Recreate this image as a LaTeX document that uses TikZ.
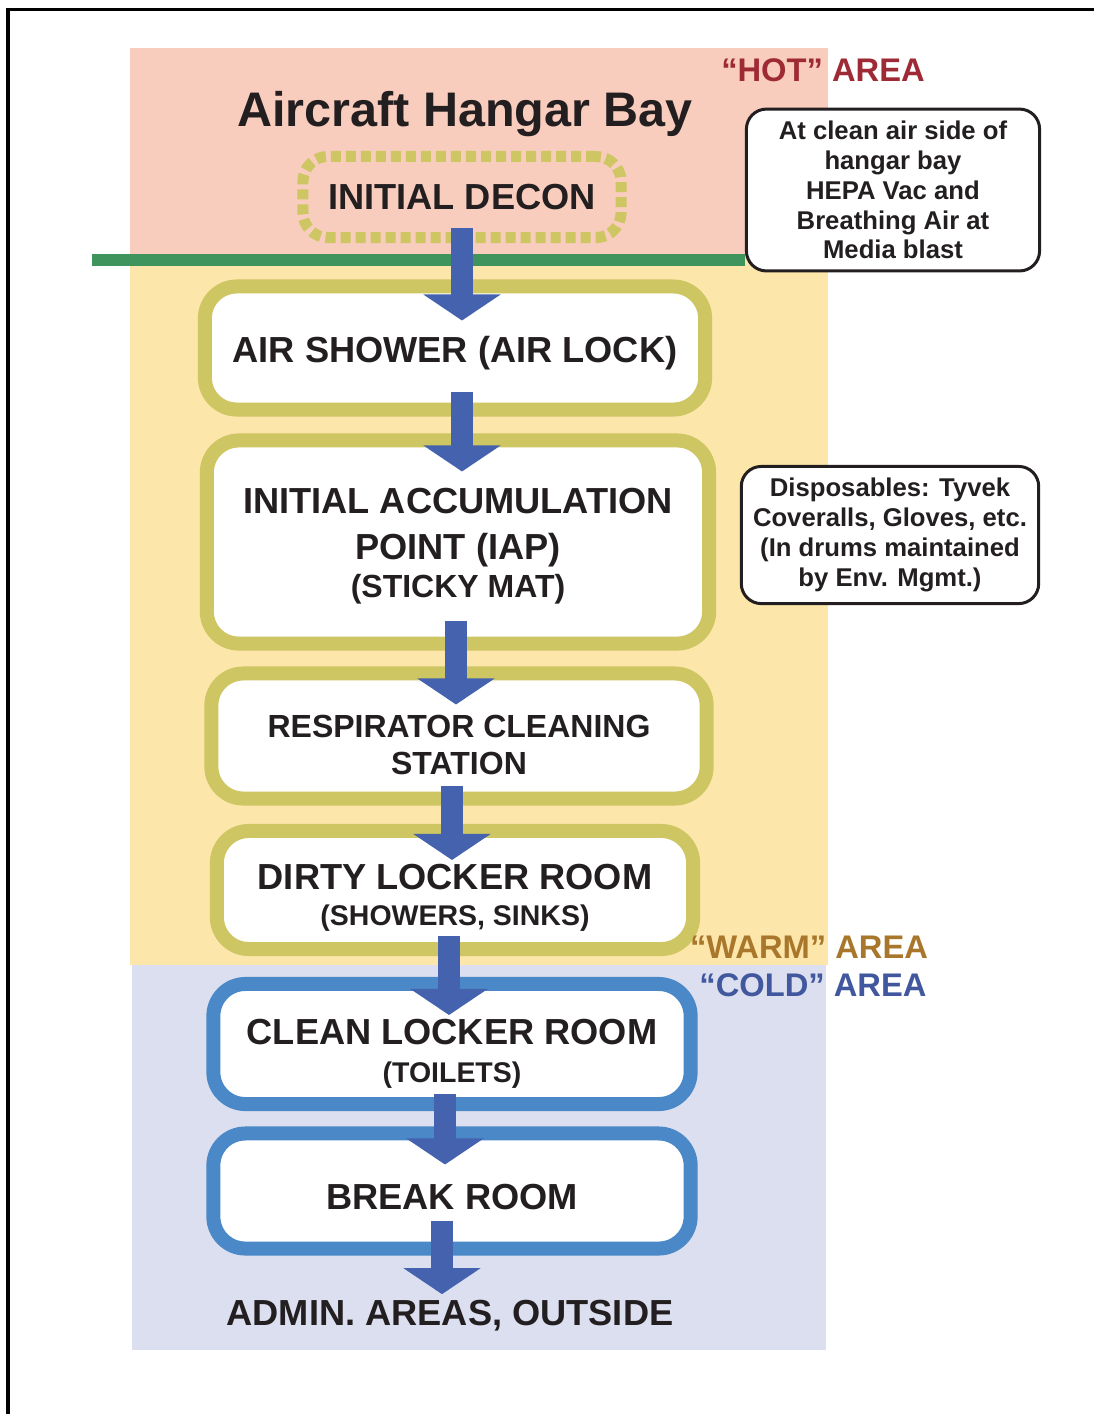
\documentclass[tikz,border=0pt]{standalone}
\usepackage{fontspec}
\setmainfont{Liberation Sans}
\usetikzlibrary{arrows.meta}

\definecolor{hotbg}{HTML}{F9CDBE}
\definecolor{warmbg}{HTML}{FDE6A9}
\definecolor{coldbg}{HTML}{DCDFEF}
\definecolor{olivebox}{HTML}{CEC563}
\definecolor{bluebox}{HTML}{4A88C7}
\definecolor{flowblue}{HTML}{4462AE}
\definecolor{linegreen}{HTML}{3F935C}
\definecolor{hotred}{HTML}{9E2A35}
\definecolor{warmbrown}{HTML}{A8772B}
\definecolor{coldblue}{HTML}{42589E}
\definecolor{inkgray}{HTML}{231F20}

\tikzset{
	roomfont/.style={text=inkgray, font=\fontsize{10.3}{13}\selectfont\bfseries},
	warmroom/.style={roomfont, draw=olivebox, fill=white, line width=0.14cm, rounded corners=0.32cm, align=center},
	coldroom/.style={warmroom, draw=bluebox},
	note/.style={draw=inkgray, fill=white, line width=0.03cm, rounded corners=0.2cm, align=center, text=inkgray, font=\fontsize{7.3}{8.5}\selectfont\bfseries},
	arealabel/.style={font=\fontsize{9.3}{11}\selectfont\bfseries},
	flowarrow/.style={draw=flowblue, line width=0.22cm, -{Triangle[width=0.76cm,length=0.26cm]}}
}

\newcommand{\subline}{\fontsize{8.1}{10}\selectfont}
\newcommand{\drop}[1]{\rule{0pt}{#1}}

\begin{document}
\begin{tikzpicture}[x=0.01cm, y=-0.01cm]
	\useasboundingbox (0,0) rectangle (1094,1414);

	\fill[hotbg] (130,48) rectangle (828,258);
	\fill[warmbg] (130,258) rectangle (828,965);
	\fill[coldbg] (132,965) rectangle (826,1350);

	\draw[line width=0.03cm] (8,1414) -- (8,9) -- (1094,9);

	\node[note, minimum width=2.93cm, minimum height=1.61cm] (hepa) at (893,190) {At clean air side of\\hangar bay\\HEPA Vac and\\Breathing Air at\\Media blast};
	\node[note, minimum width=2.94cm, minimum height=1.32cm] (waste) at (890,535) {Disposables: Tyvek\\Coveralls, Gloves, etc.\\(In drums maintained\\by Env. Mgmt.)};

	\coordinate (gline) at (92,260);
	\draw[linegreen, line width=0.12cm] (gline) -- (gline -| hepa.west);

	\node[text=inkgray, font=\fontsize{13.8}{16}\selectfont\bfseries] (title) at (465,114) {Aircraft Hangar Bay};
	\node[roomfont, draw=olivebox, line width=0.11cm, dash pattern=on 0.1cm off 0.05cm, rounded corners=0.25cm, minimum width=3.18cm, minimum height=0.81cm] (decon) at (462,197) {INITIAL DECON};

	\node[warmroom, minimum width=5.0cm, minimum height=1.23cm] (air) at (455,348) {\drop{10.3pt}AIR SHOWER (AIR LOCK)};
	\node[warmroom, minimum width=5.02cm, minimum height=2.03cm] (iap) at (458,542) {\drop{9.7pt}INITIAL ACCUMULATION\\POINT (IAP)\\[-2.2pt]{\fontsize{9.1}{11}\selectfont (STICKY MAT)}};
	\node[warmroom, font=\fontsize{9.1}{10.5}\selectfont\bfseries, minimum width=4.95cm, minimum height=1.25cm] (resp) at (459,736) {\drop{11.3pt}RESPIRATOR CLEANING\\STATION};
	\node[warmroom, minimum width=4.76cm, minimum height=1.18cm] (dirty) at (455,890) {\drop{11.6pt}DIRTY LOCKER ROOM\\[-2.8pt]{\subline (SHOWERS, SINKS)}};
	\node[coldroom, minimum width=4.77cm, minimum height=1.20cm] (clean) at (452,1044) {\drop{12.7pt}CLEAN LOCKER ROOM\\[-2.2pt]{\subline (TOILETS)}};
	\node[coldroom, minimum width=4.77cm, minimum height=1.15cm] (break) at (452,1191) {\drop{10.4pt}BREAK ROOM};
	\node[roomfont] (admin) at (450,1316) {ADMIN. AREAS, OUTSIDE};

	\draw[flowarrow] ([yshift=0.15cm]decon.south) -- ([yshift=-0.41cm]decon.south |- air.north);
	\draw[flowarrow] ([xshift=0.07cm, yshift=0.25cm]air.south) -- ([xshift=0.07cm, yshift=-0.38cm]air.south |- iap.north);
	\draw[flowarrow] ([xshift=-0.02cm, yshift=0.3cm]iap.south) -- ([xshift=-0.02cm, yshift=-0.38cm]iap.south |- resp.north);
	\draw[flowarrow] ([xshift=-0.07cm, yshift=0.2cm]resp.south) -- ([xshift=-0.07cm, yshift=-0.36cm]resp.south |- dirty.north);
	\draw[flowarrow] ([xshift=-0.06cm, yshift=0.2cm]dirty.south) -- ([xshift=-0.06cm, yshift=-0.38cm]dirty.south |- clean.north);
	\draw[flowarrow] ([xshift=-0.07cm, yshift=0.17cm]clean.south) -- ([xshift=-0.07cm, yshift=-0.38cm]clean.south |- break.north);
	\draw[flowarrow] ([xshift=-0.1cm, yshift=0.35cm]break.south) -- ([xshift=-0.1cm, yshift=-0.06cm]break.south |- admin.north);

	\node[arealabel, text=hotred] (hot) at (823,70) {“HOT” AREA};
	\node[arealabel, text=warmbrown] (warm) at (809,947) {“WARM” AREA};
	\node[arealabel, text=coldblue] (cold) at (813,985) {“COLD” AREA};
\end{tikzpicture}
\end{document}
